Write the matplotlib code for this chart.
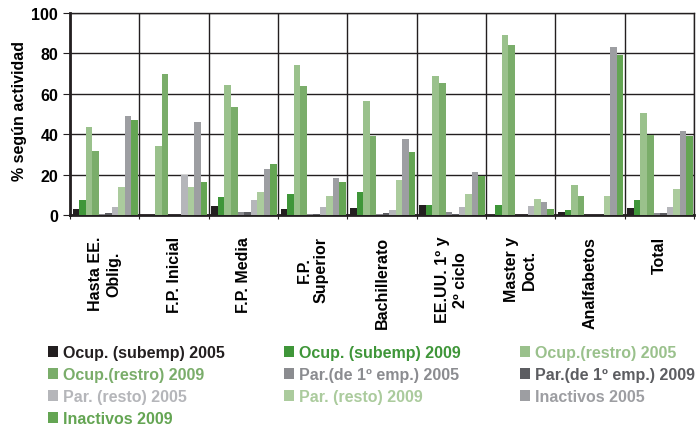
import numpy as np
import matplotlib
matplotlib.use("Agg")
from matplotlib import pyplot as plt

plt.rcParams['font.family'] = ['Liberation Sans', 'DejaVu Sans']
plt.rcParams['font.weight'] = 'bold'

# Data
categories = ["Hasta EE.\nOblig.", "F.P. Inicial", "F.P. Media", "F.P.\nSuperior",
              "Bachillerato", "EE.UU. 1º y\n2º ciclo", "Master y\nDoct.", "Analfabetos", "Total"]

series_names = ["Ocup. (subemp) 2005", "Ocup. (subemp) 2009",
                "Ocup.(restro) 2005", "Ocup.(restro) 2009",
                "Par.(de 1º emp.) 2005", "Par.(de 1º emp.) 2009",
                "Par. (resto) 2005", "Par. (resto) 2009",
                "Inactivos 2005", "Inactivos 2009"]

ocup_subemp_2005 = [3.0, 0.0, 4.5, 3.0, 3.5, 5.0, 0.0, 1.5, 3.5]
ocup_subemp_2009 = [7.4, 0.0, 8.9, 10.4, 11.4, 5.0, 5.0, 2.5, 7.4]
ocup_restro_2005 = [43.6, 34.2, 64.4, 74.3, 56.4, 68.8, 89.1, 14.9, 50.5]
ocup_restro_2009 = [31.7, 69.8, 53.5, 63.9, 39.1, 65.3, 84.2, 9.4, 39.6]
par_1emp_2005 = [0.3, 0.0, 1.5, 0.3, 0.3, 1.5, 0.0, 0.0, 1.0]
par_1emp_2009 = [1.0, 0.0, 1.5, 0.3, 1.0, 0.5, 0.0, 0.0, 1.0]
par_resto_2005 = [4.0, 19.8, 7.4, 4.0, 2.5, 4.0, 4.5, 0.0, 4.0]
par_resto_2009 = [13.9, 13.9, 11.4, 9.4, 17.3, 10.4, 7.9, 9.4, 12.9]
inactivos_2005 = [49.0, 46.0, 22.8, 18.3, 37.6, 21.3, 6.4, 83.2, 41.6]
inactivos_2009 = [47.0, 16.3, 25.2, 16.3, 31.2, 19.3, 3.0, 79.2, 39.1]

series_values = [ocup_subemp_2005, ocup_subemp_2009, ocup_restro_2005, ocup_restro_2009,
                 par_1emp_2005, par_1emp_2009, par_resto_2005, par_resto_2009,
                 inactivos_2005, inactivos_2009]

colors = ["#231f20", "#3f9639", "#9ac18c", "#7aad6a", "#8b8c90",
          "#5c5d61", "#b5b6ba", "#abcb9d", "#9d9ea2", "#64a553"]

y_ticks = [0, 20, 40, 60, 80, 100]

# Figure
fig = plt.figure(figsize=(6.98, 4.27), dpi=100)
ax = fig.add_axes([0.1003, 0.494, 0.894, 0.473])

x = np.arange(len(categories))
bar_w = 0.094
handles = []
for j, (name, vals, c) in enumerate(zip(series_names, series_values, colors)):
    h = ax.bar(x + 0.04 + j * bar_w, vals, width=bar_w, align='edge', color=c,
               label=name, zorder=3, linewidth=0)
    handles.append(h)

ax.set_xlim(0, len(categories))
ax.set_ylim(0, 100)
ax.set_yticks(y_ticks)
ax.set_xticks(np.arange(len(categories) + 1))
ax.set_xticklabels([])
ax.set_xticks(x + 0.5, minor=True)
ax.set_xticklabels(categories, minor=True, rotation=90, va='top', ha='center',
                   fontsize=11.5, fontweight='bold')
ax.tick_params(axis='x', which='minor', length=0, pad=15)
ax.tick_params(axis='x', which='major', length=3, direction='out', color='#231f20')
ax.tick_params(axis='y', length=5, direction='out', labelsize=11.5, color='#231f20')
for lbl in ax.get_yticklabels():
    lbl.set_fontweight('bold')

ax.grid(True, which='major', color='#231f20', linewidth=1, zorder=1)
for s in ['top', 'right']:
    ax.spines[s].set_color('#231f20')
    ax.spines[s].set_linewidth(1)
ax.spines['left'].set_linewidth(2)
ax.spines['left'].set_color('#231f20')
ax.spines['bottom'].set_linewidth(2)
ax.spines['bottom'].set_color('#231f20')

ax.set_ylabel("% según actividad", fontsize=11.5, fontweight='bold', labelpad=3)
ax.yaxis.label.set_y(0.52)

# Legend, row-major order in 3 columns
order = [0, 3, 6, 9, 1, 4, 7, 2, 5, 8]
leg = fig.legend([handles[i] for i in order], [series_names[i] for i in order],
                 ncol=3, loc='upper left', bbox_to_anchor=(0.0686, 0.19),
                 frameon=False, fontsize=11.5, handlelength=0.65, handleheight=0.65,
                 handletextpad=0.3, columnspacing=3.7, labelspacing=0.45,
                 borderpad=0, borderaxespad=0)
for txt, i in zip(leg.get_texts(), order):
    txt.set_color(colors[i])
    txt.set_fontweight('bold')

fig.savefig("out.png", dpi=100)
